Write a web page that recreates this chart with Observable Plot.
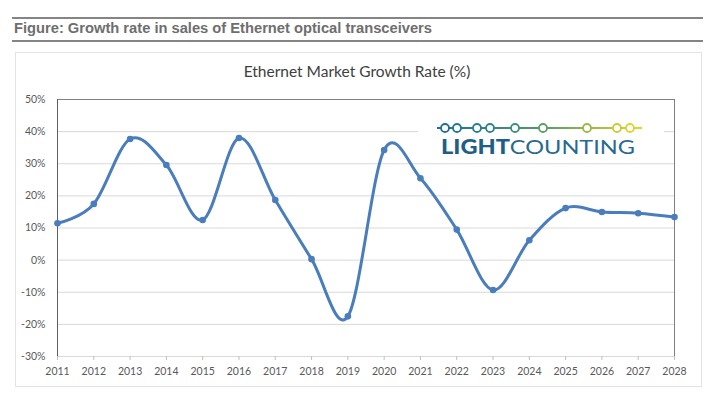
<!DOCTYPE html>
<html>
<head>
<meta charset="utf-8">
<script src="https://cdn.jsdelivr.net/npm/d3@7"></script>
<script src="https://cdn.jsdelivr.net/npm/@observablehq/plot@0.6"></script>
<style>
  html, body { margin: 0; padding: 0; background: #fff; }
  #page { position: relative; width: 714px; height: 395px; overflow: hidden; font-family: Lato, "Open Sans", sans-serif; }
  .rule { position: absolute; left: 12px; width: 691px; height: 0; border-top: 2px solid #858585; }
  #heading { position: absolute; left: 0; top: 16px; }
  #box { position: absolute; left: 15px; top: 52px; width: 687px; height: 335px; border: 1px solid #e3e3e3; box-sizing: border-box; }
  #ctitle { position: absolute; left: 0; width: 714px; top: 62px; text-align: center; font-size: 15.5px; color: #404040; }
  #chart { position: absolute; left: 0; top: 85px; }
  #logo { position: absolute; left: 418px; top: 113px; }
</style>
</head>
<body>
<div id="page">
  <div class="rule" style="top:17px"></div>
  <svg id="heading" width="714" height="24"><text x="14" y="17" textLength="418" lengthAdjust="spacingAndGlyphs" font-family="'Liberation Sans', Arial, sans-serif" font-weight="bold" font-size="14" fill="#6e6e6e">Figure: Growth rate in sales of Ethernet optical transceivers</text></svg>
  <div class="rule" style="top:40px"></div>
  <div id="box"></div>
  <div id="ctitle">Ethernet Market Growth Rate (%)</div>
  <div id="chart"></div>
  <svg id="logo" width="246" height="48">
    <defs>
      <linearGradient id="lg" gradientUnits="userSpaceOnUse" x1="19" x2="224" y1="0" y2="0">
        <stop offset="0" stop-color="#1d6f99"/>
        <stop offset="0.5" stop-color="#4e9a6a"/>
        <stop offset="1" stop-color="#e2d82a"/>
      </linearGradient>
    </defs>
    <rect x="0" y="0" width="246" height="48" fill="#fff"/>
    <line x1="19" x2="224" y1="15" y2="15" stroke="url(#lg)" stroke-width="2"/>
    <g fill="#fff" stroke-width="1.8">
      <circle cx="27" cy="15" r="4" stroke="#1f6f98"/>
      <circle cx="39" cy="15" r="4" stroke="#21769a"/>
      <circle cx="59" cy="15" r="4" stroke="#267e96"/>
      <circle cx="72" cy="15" r="4" stroke="#2b8392"/>
      <circle cx="97" cy="15" r="4" stroke="#3d8f80"/>
      <circle cx="125" cy="15" r="4" stroke="#5a9e68"/>
      <circle cx="169" cy="15" r="4" stroke="#9bb845"/>
      <circle cx="199" cy="15" r="4" stroke="#c9cd33"/>
      <circle cx="212" cy="15" r="4" stroke="#dcd52c"/>
    </g>
    <text x="23" y="41" textLength="194" lengthAdjust="spacingAndGlyphs" font-family="Lato, 'Open Sans', sans-serif" font-size="20" fill="#1e5f87"><tspan font-weight="900">LIGHT</tspan><tspan font-weight="400" fill="#27698f">COUNTING</tspan></text>
  </svg>
</div>
<script>
const years = [2011, 2012, 2013, 2014, 2015, 2016, 2017, 2018, 2019, 2020, 2021, 2022, 2023, 2024, 2025, 2026, 2027, 2028];
const growth = [11.5, 17.5, 37.7, 29.6, 12.5, 38.0, 18.7, 0.3, -17.5, 34.3, 25.5, 9.5, -9.3, 6.2, 16.2, 15.0, 14.6, 13.4];
const yTicks = [-30, -20, -10, 0, 10, 20, 30, 40, 50];

const data = years.map((year, i) => ({year, value: growth[i]}));
const lineColor = "#4a7dbb";

const chart = Plot.plot({
  width: 714,
  height: 300,
  marginLeft: 57,
  marginRight: 40,
  marginTop: 14,
  marginBottom: 29,
  style: {fontFamily: "Lato, 'Open Sans', sans-serif", fontSize: "10.5px", color: "#595959", background: "transparent"},
  x: {domain: [years[0], years[years.length - 1]]},
  y: {domain: [yTicks[0], yTicks[yTicks.length - 1]]},
  marks: [
    Plot.gridY(yTicks, {stroke: "#d9d9d9", strokeOpacity: 1, strokeWidth: 1}),
    Plot.ruleY([yTicks[yTicks.length - 1]], {stroke: "#808080", strokeWidth: 1}),
    Plot.ruleX([years[0]], {stroke: "#5f5f5f", strokeWidth: 1}),
    Plot.ruleX([years[years.length - 1]], {stroke: "#808080", strokeWidth: 1}),
    Plot.axisY(yTicks, {tickSize: 0, tickPadding: 12, tickFormat: d => d + "%", label: null, fill: "#595959"}),
    Plot.axisX(years, {tickSize: 4, tickPadding: 7, tickFormat: d => String(d), label: null, stroke: "#bfbfbf", fill: "#595959"}),
    Plot.line(data, {x: "year", y: "value", curve: "cardinal", stroke: lineColor, strokeWidth: 3}),
    Plot.dot(data, {x: "year", y: "value", r: 3.3, fill: lineColor, stroke: "none"})
  ]
});
document.getElementById("chart").appendChild(chart);
</script>
</body>
</html>
